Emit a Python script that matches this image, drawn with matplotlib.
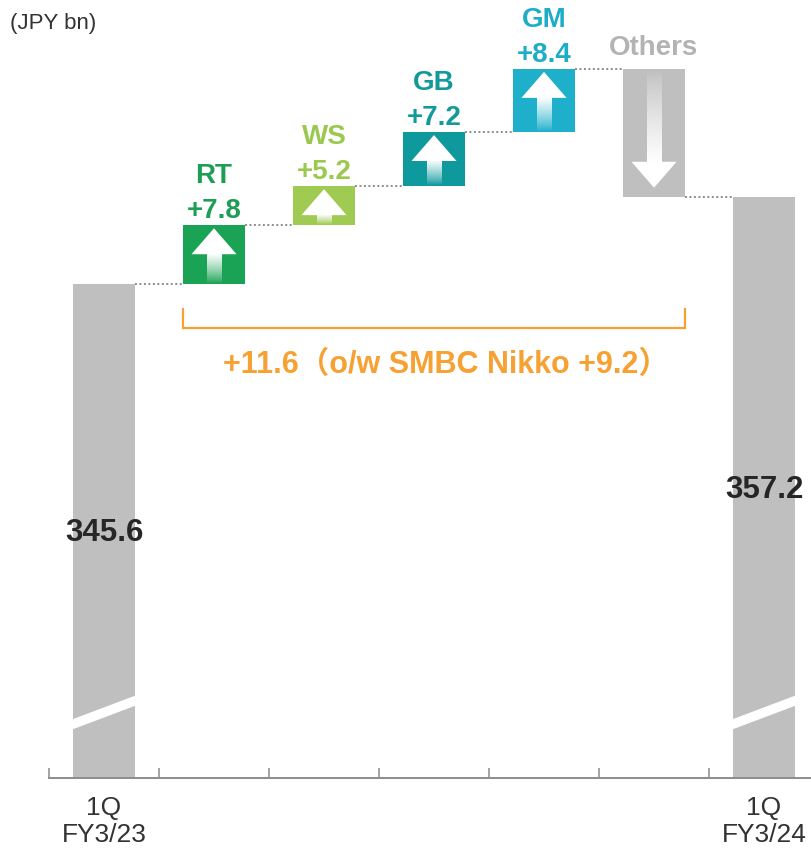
import numpy as np
import matplotlib
matplotlib.use("Agg")
import matplotlib.pyplot as plt
from matplotlib.patches import Polygon

# ---------------- data ----------------
categories = ['1Q\nFY3/23', 'RT', 'WS', 'GB', 'GM', 'Others', '1Q\nFY3/24']
start_value = 345.6
end_value = 357.2
deltas = [7.8, 5.2, 7.2, 8.4, -17.0]
delta_labels = ['+7.8', '+5.2', '+7.2', '+8.4', '']
bracket_text = '+11.6（o/w SMBC Nikko +9.2）'
unit_text = '(JPY bn)'

# ---------------- style ----------------
box_colors = ['#1BA355', '#A0CB52', '#0E999C', '#1EAFCB', '#BFBFBF']
text_colors = ['#1E9E55', '#9BC84E', '#12999A', '#1EADC9', '#B3B3B3']
bar_gray = '#BFBFBF'
orange = '#F7A133'
W = 0.56
BASE = 279.88
YTOP = 383.5
BOLD = ['Liberation Sans', 'Noto Sans CJK JP', 'DejaVu Sans']

fig = plt.figure(figsize=(8.12, 8.53), dpi=100)
ax = fig.add_axes([49 / 812, 74 / 853, 763 / 812, 779 / 853])
ax.set_xlim(-0.5, -0.5 + 763 / 110)
ax.set_ylim(BASE, YTOP)

n = len(categories)
xs = np.arange(n)

# totals
ax.bar([0, n - 1], [start_value - BASE, end_value - BASE], bottom=BASE,
       width=W, color=bar_gray, zorder=2)

# steps
levels = [start_value]
for d in deltas:
    levels.append(levels[-1] + d)
lows = [min(levels[i], levels[i + 1]) for i in range(len(deltas))]
highs = [max(levels[i], levels[i + 1]) for i in range(len(deltas))]
ax.bar(xs[1:-1], [h - l for h, l in zip(highs, lows)], bottom=lows,
       width=W, color=box_colors, zorder=2)

# arrows inside the step boxes
hh = 3.45   # head height (data units)
hw = 0.205  # head half-width
sw = 0.068  # stem half-width
gap = 0.4
grad = np.ones((200, 1, 4))
for i, d in enumerate(deltas):
    x = xs[i + 1]
    lo, hi = lows[i], highs[i]
    if d > 0:
        tip = hi - gap
        base = tip - hh
        ax.add_patch(Polygon([(x - hw, base), (x + hw, base), (x, tip)],
                             closed=True, color='white', lw=0, zorder=4))
        a = np.linspace(1, 0, 200) ** 0.8
        g = grad.copy(); g[:, 0, 3] = a
        ax.imshow(g, extent=(x - sw, x + sw, lo + 0.15, base + 0.05),
                  aspect='auto', origin='upper', zorder=3, interpolation='bilinear')
    else:
        tip = lo + 1.2
        base = tip + hh
        ax.add_patch(Polygon([(x - hw, base), (x + hw, base), (x, tip)],
                             closed=True, color='white', lw=0, zorder=4))
        a = np.linspace(0, 1, 200) ** 0.8
        g = grad.copy(); g[:, 0, 3] = a
        ax.imshow(g, extent=(x - sw, x + sw, base - 0.05, hi - gap),
                  aspect='auto', origin='upper', zorder=3, interpolation='bilinear')

# dotted connectors
for i in range(n - 1):
    ax.plot([xs[i] + W / 2, xs[i + 1] - W / 2], [levels[i], levels[i]],
            color='#8C8C8C', lw=1.4, ls=(0, (1, 1.3)), zorder=1)

# labels above the steps
for i, d in enumerate(deltas):
    x = xs[i + 1]
    top = highs[i]
    if delta_labels[i]:
        ax.annotate(delta_labels[i], (x, top), xytext=(0, 11), textcoords='offset points',
                    ha='center', va='center', fontsize=20, fontweight='bold',
                    color=text_colors[i], family=BOLD)
        ax.annotate(categories[i + 1], (x, top), xytext=(0, 36), textcoords='offset points',
                    ha='center', va='center', fontsize=20, fontweight='bold',
                    color=text_colors[i], family=BOLD)
    else:
        ax.annotate(categories[i + 1], (x, top), xytext=(0, 16), textcoords='offset points',
                    ha='center', va='center', fontsize=20, fontweight='bold',
                    color=text_colors[i], family=BOLD)

# value labels on totals
ax.text(0, 312.6, f'{start_value:.1f}', ha='center', va='center', fontsize=22.5,
        fontweight='bold', color='#262626', family=BOLD, zorder=5)
ax.text(n - 1, 318.3, f'{end_value:.1f}', ha='center', va='center', fontsize=22.5,
        fontweight='bold', color='#262626', family=BOLD, zorder=5)

# axis break stripes
for x in [0, n - 1]:
    yl, yr, t = 287.0, 290.2, 1.35
    ax.add_patch(Polygon([(x - W / 2 - 0.01, yl - t / 2), (x + W / 2 + 0.01, yr - t / 2),
                          (x + W / 2 + 0.01, yr + t / 2), (x - W / 2 - 0.01, yl + t / 2)],
                         closed=True, color='white', lw=0, zorder=3))

# bracket
bx0, bx1 = xs[1] - W / 2, xs[-2] + W / 2
by_top, by_bot = start_value - 3.3, start_value - 5.85
ax.plot([bx0, bx0, bx1, bx1], [by_top, by_bot, by_bot, by_top], color=orange,
        lw=1.6, solid_joinstyle='miter', zorder=2)
ax.text(1.082, 334.96, bracket_text, ha='left', va='center', fontsize=22,
        fontweight='bold', color=orange, family=BOLD)

# unit
fig.text(10 / 812, 1 - 23 / 853, unit_text, ha='left', va='center', fontsize=16,
         color='#333333', family=['Liberation Sans', 'DejaVu Sans'])

# axes styling
for s in ['left', 'right', 'top']:
    ax.spines[s].set_visible(False)
ax.spines['bottom'].set_color('#8C8C8C')
ax.spines['bottom'].set_linewidth(1.4)
ax.set_yticks([])
ax.set_xticks(np.arange(n) - 0.5)
ax.set_xticklabels([])
ax.tick_params(axis='x', which='major', direction='in', length=7, width=1.1, color='#8C8C8C')
ax.set_xticks([0, n - 1], [categories[0], categories[-1]], minor=True)
ax.tick_params(axis='x', which='minor', length=0, pad=12, labelsize=19, labelcolor='#333333')
for lab in ax.get_xticklabels(minor=True):
    lab.set_family(['Liberation Sans', 'DejaVu Sans'])
    lab.set_linespacing(1.15)

fig.savefig('out.png', dpi=100)
